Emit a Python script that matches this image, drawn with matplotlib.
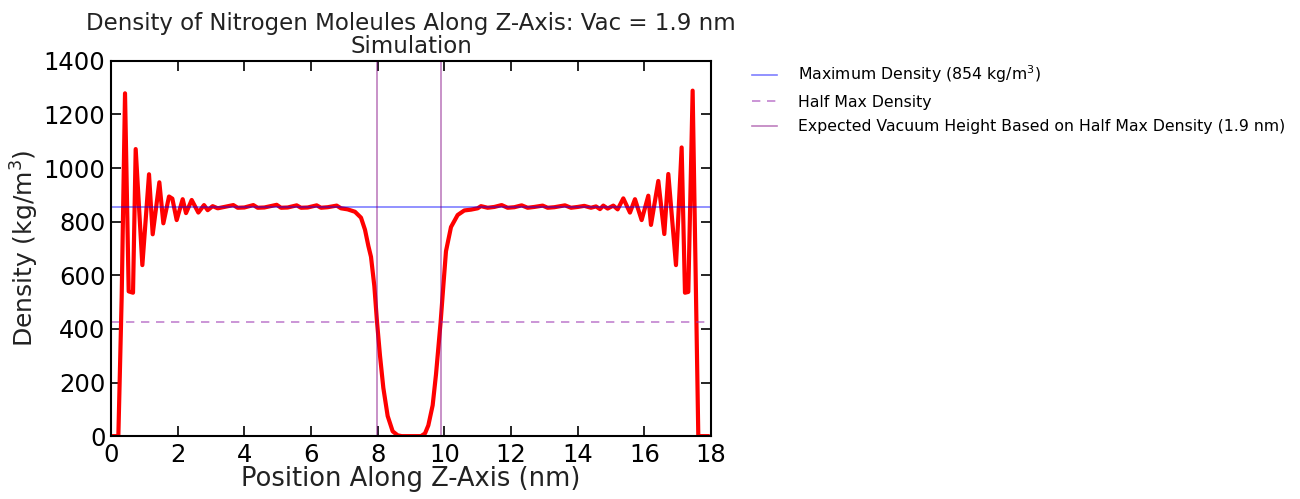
import matplotlib
matplotlib.use("Agg")
import matplotlib.pyplot as plt

# density profile of N2 along z (nm, kg/m^3)
z_nm = [0.0, 0.1, 0.22, 0.32, 0.42, 0.53, 0.66, 0.74, 0.94, 1.14, 1.25, 1.45, 1.57,
        1.74, 1.84, 1.97, 2.15, 2.25, 2.42, 2.62, 2.79, 2.9, 3.05, 3.2, 3.4,
        3.67, 3.8, 4.0, 4.27, 4.4, 4.6, 4.97, 5.1, 5.3, 5.57, 5.7, 5.9, 6.17,
        6.3, 6.5, 6.77, 6.9, 7.1, 7.32, 7.5, 7.62, 7.72, 7.8, 7.9, 7.98, 8.07,
        8.17, 8.3, 8.45, 8.6, 8.72, 9.0, 9.3, 9.42, 9.52, 9.65, 9.75, 9.89,
        9.97, 10.05, 10.2, 10.4, 10.6, 10.8, 11.0, 11.1, 11.3, 11.5, 11.72,
        11.9, 12.1, 12.32, 12.5, 12.7, 12.95, 13.1, 13.3, 13.62, 13.8, 14.0,
        14.2, 14.4, 14.55, 14.67, 14.77, 14.9, 15.07, 15.2, 15.37, 15.57,
        15.72, 15.92, 16.12, 16.2, 16.42, 16.6, 16.72, 16.95, 17.12, 17.22,
        17.32, 17.45, 17.62, 17.75, 17.9]
density = [0, 0, 0, 520, 1279, 540, 535, 1071, 638, 977, 753, 947, 794,
           894, 886, 806, 884, 832, 881, 834, 862, 843, 858, 850, 855,
           862, 852, 853, 862, 852, 853, 863, 852, 853, 861, 852, 853, 861,
           852, 854, 860, 850, 846, 837, 815, 770, 710, 669, 560, 427, 300,
           180, 75, 18, 3, 0, 0, 0, 10, 40, 115, 230, 427,
           560, 690, 780, 825, 842, 845, 850, 858, 852, 855, 862,
           852, 854, 861, 852, 855, 860, 852, 854, 861, 852, 855,
           859, 852, 857, 847, 860, 849, 860, 846, 887, 834,
           884, 806, 897, 788, 952, 754, 978, 638, 1077, 535,
           538, 1289, 0, 0, 0]

max_density = 854
half_max = max_density / 2
vac_edges = [7.99, 9.89]

plt.rcParams["xtick.direction"] = "in"
plt.rcParams["ytick.direction"] = "in"
plt.rcParams["xtick.top"] = True
plt.rcParams["ytick.right"] = True
plt.rcParams["xtick.major.size"] = 7.5
plt.rcParams["ytick.major.size"] = 7.5
plt.rcParams["xtick.major.width"] = 1.2
plt.rcParams["ytick.major.width"] = 1.2
plt.rcParams["axes.linewidth"] = 1.5

fig = plt.figure(figsize=(13, 4.99), dpi=100)
ax = fig.add_axes([0.0854, 0.126, 0.4615, 0.752])

ax.plot(z_nm, density, color="red", lw=3)
ax.axhline(max_density, color="blue", alpha=0.5, lw=1.2,
           label="Maximum Density (%d kg/m$^3$)" % max_density)
ax.axhline(half_max, color="#9b30b0", alpha=0.6, lw=1.2, ls="--",
           dashes=(5, 4), label="Half Max Density")
ax.axvline(vac_edges[0], color="purple", alpha=0.5, lw=1.2,
           label="Expected Vacuum Height Based on Half Max Density (1.9 nm)")
ax.axvline(vac_edges[1], color="purple", alpha=0.5, lw=1.2)

ax.set_xlim(0, 18)
ax.set_ylim(0, 1400)
ax.set_xticks(range(0, 19, 2))
ax.set_yticks(range(0, 1401, 200))
ax.tick_params(axis="x", labelsize=17.5, pad=5)
ax.tick_params(axis="y", labelsize=17.5, pad=4)

ax.set_title("Density of Nitrogen Moleules Along Z-Axis: Vac = 1.9 nm\nSimulation",
             fontsize=16.5, color="#222222", linespacing=1.0, pad=6)
ax.set_xlabel("Position Along Z-Axis (nm)", fontsize=18.5, color="#222222", labelpad=-1)
ax.set_ylabel("Density (kg/m$^3$)", fontsize=18, color="#222222", labelpad=2)

ax.legend(loc="upper left", bbox_to_anchor=(1.045, 1.03), frameon=False,
          fontsize=11.3, handlelength=1.6, labelspacing=0.6, handletextpad=1.3)

fig.savefig("out.png", dpi=100)
